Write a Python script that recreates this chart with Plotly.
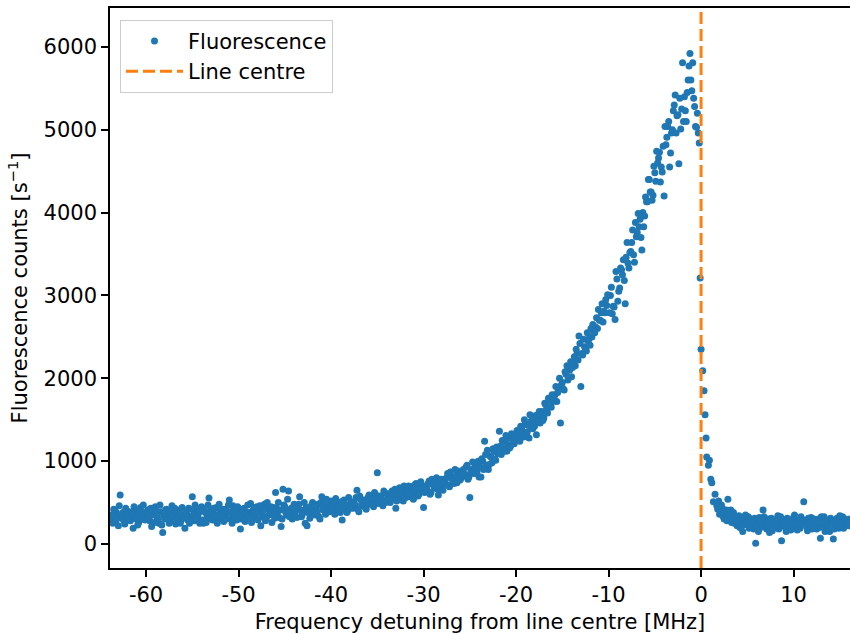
import plotly.graph_objects as go

# ---- data ----
# main sweep samples
freq_a = [
    -63.8, -63.6, -63.4, -63.2, -63.0, -62.8, -62.6, -62.4, -62.2, -62.0,
    -61.8, -61.6, -61.4, -61.2, -61.0, -60.8, -60.6, -60.4, -60.2, -60.0,
    -59.8, -59.6, -59.4, -59.2, -59.0, -58.8, -58.6, -58.4, -58.2, -58.0,
    -57.8, -57.6, -57.4, -57.2, -57.0, -56.8, -56.6, -56.4, -56.2, -56.0,
    -55.8, -55.6, -55.4, -55.2, -55.0, -54.8, -54.6, -54.4, -54.2, -54.0,
    -53.8, -53.6, -53.4, -53.2, -53.0, -52.8, -52.6, -52.4, -52.2, -52.0,
    -51.8, -51.6, -51.4, -51.2, -51.0, -50.8, -50.6, -50.4, -50.2, -50.0,
    -49.8, -49.6, -49.4, -49.2, -49.0, -48.8, -48.6, -48.4, -48.2, -48.0,
    -47.8, -47.6, -47.4, -47.2, -47.0, -46.8, -46.6, -46.4, -46.2, -46.0,
    -45.8, -45.6, -45.4, -45.2, -45.0, -44.8, -44.6, -44.4, -44.2, -44.0,
    -43.8, -43.6, -43.4, -43.2, -43.0, -42.8, -42.6, -42.4, -42.2, -42.0,
    -41.8, -41.6, -41.4, -41.2, -41.0, -40.8, -40.6, -40.4, -40.2, -40.0,
    -39.8, -39.6, -39.4, -39.2, -39.0, -38.8, -38.6, -38.4, -38.2, -38.0,
    -37.8, -37.6, -37.4, -37.2, -37.0, -36.8, -36.6, -36.4, -36.2, -36.0,
    -35.8, -35.6, -35.4, -35.2, -35.0, -34.8, -34.6, -34.4, -34.2, -34.0,
    -33.8, -33.6, -33.4, -33.2, -33.0, -32.8, -32.6, -32.4, -32.2, -32.0,
    -31.8, -31.6, -31.4, -31.2, -31.0, -30.8, -30.6, -30.4, -30.2, -30.0,
    -29.8, -29.6, -29.4, -29.2, -29.0, -28.8, -28.6, -28.4, -28.2, -28.0,
    -27.8, -27.6, -27.4, -27.2, -27.0, -26.8, -26.6, -26.4, -26.2, -26.0,
    -25.8, -25.6, -25.4, -25.2, -25.0, -24.8, -24.6, -24.4, -24.2, -24.0,
    -23.8, -23.6, -23.4, -23.2, -23.0, -22.8, -22.6, -22.4, -22.2, -22.0,
    -21.8, -21.6, -21.4, -21.2, -21.0, -20.8, -20.6, -20.4, -20.2, -20.0,
    -19.8, -19.6, -19.4, -19.2, -19.0, -18.8, -18.6, -18.4, -18.2, -18.0,
    -17.8, -17.6, -17.4, -17.2, -17.0, -16.8, -16.6, -16.4, -16.2, -16.0,
    -15.8, -15.6, -15.4, -15.2, -15.0, -14.8, -14.6, -14.4, -14.2, -14.0,
    -13.8, -13.6, -13.4, -13.2, -13.0, -12.8, -12.6, -12.4, -12.2, -12.0,
    -11.8, -11.6, -11.4, -11.2, -11.0, -10.8, -10.6, -10.4, -10.2, -10.0,
    -9.8, -9.6, -9.4, -9.2, -9.0, -8.8, -8.6, -8.4, -8.2, -8.0,
    -7.8, -7.6, -7.4, -7.2, -7.0, -6.8, -6.6, -6.4, -6.2, -6.0,
    -5.8, -5.6, -5.4, -5.2, -5.0, -4.8, -4.6, -4.4, -4.2, -4.0,
    -3.8, -3.6, -3.4, -3.2, -3.0, -2.8, -2.6, -2.4, -2.2, -2.0,
    -1.8, -1.6, -1.4, -1.2, -1.0, -0.8, -0.6, -0.4, -0.2,
    -0.1, 0.0, 0.18, 0.32, 0.43, 0.54, 0.61, 0.79, 0.9, 1.05, 1.16, 1.33, 1.51,
    1.7, 1.9, 2.1, 2.3, 2.5, 2.7, 2.9, 3.1, 3.3, 3.5,
    3.7, 3.9, 4.1, 4.3, 4.5, 4.7, 4.9, 5.1, 5.3, 5.5,
    5.7, 5.9, 6.1, 6.3, 6.5, 6.7, 6.9, 7.1, 7.3, 7.5,
    7.7, 7.9, 8.1, 8.3, 8.5, 8.7, 8.9, 9.1, 9.3, 9.5,
    9.7, 9.9, 10.1, 10.3, 10.5, 10.7, 10.9, 11.1, 11.3, 11.5,
    11.7, 11.9, 12.1, 12.3, 12.5, 12.7, 12.9, 13.1, 13.3, 13.5,
    13.7, 13.9, 14.1, 14.3, 14.5, 14.7, 14.9, 15.1, 15.3, 15.5,
    15.7, 15.9, 16.1,
]

counts_a = [
    300, 250, 410, 380, 220, 590, 340, 280, 430, 360,
    390, 310, 190, 420, 350, 260, 440, 300, 380, 330,
    410, 280, 210, 360, 450, 320, 250, 390, 140, 300,
    420, 350, 270, 460, 330, 240, 380, 410, 290, 350,
    190, 360, 430, 310, 570, 280, 400, 340, 250, 450,
    250, 380, 320, 555, 410, 290, 360, 440, 300, 390,
    340, 270, 420, 380, 530, 310, 460, 350, 290, 400,
    180, 360, 430, 310, 470, 380, 260, 410, 340, 450,
    390, 220, 350, 480, 300, 420, 370, 260, 440, 620,
    380, 320, 210, 660, 450, 350, 640, 410, 300, 480,
    400, 460, 570, 330, 390, 250, 220, 440, 370, 500,
    350, 430, 480, 300, 570, 410, 360, 460, 390, 520,
    420, 360, 500, 440, 380, 290, 530, 450, 400, 480,
    510, 430, 470, 650, 390, 540, 460, 500, 420, 560,
    480, 530, 450, 600, 860, 510, 570, 460, 620, 540,
    590, 500, 640, 550, 430, 610, 680, 560, 520, 650,
    600, 700, 570, 660, 620, 730, 580, 680, 640, 440,
    700, 650, 760, 620, 720, 680, 800, 590, 740, 690,
    780, 720, 850, 690, 810, 760, 900, 740, 830, 780,
    870, 820, 930, 780, 560, 900, 850, 960, 880, 810,
    810, 1000, 1240, 950, 900, 1060, 980, 1120, 1010, 1090,
    1360, 1080, 1150, 1230, 1120, 1280, 1180, 1300, 1210, 1260,
    1320, 1240, 1400, 1290, 1450, 1350, 1280, 1480, 1390, 1420,
    1320, 1540, 1460, 1600, 1520, 1680, 1580, 1740, 1650, 1720,
    1800, 1720, 1880, 1460, 1950, 1860, 2050, 1980, 2100, 2020,
    2200, 2150, 2300, 2510, 1900, 2280, 2380, 2330, 2450, 2400,
    2500, 2560, 2620, 2600, 2700, 2790, 2680, 2790, 2880, 3000,
    3000, 2780, 2860, 3290, 2930, 3090, 3310, 3430, 2900, 3640,
    3330, 3530, 3790, 3400, 3710, 3990, 3920, 3550, 3830, 4190,
    4130, 4400, 4250, 4210, 4480, 4740, 4660, 4370, 4490, 4200,
    4820, 5040, 4550, 4960, 5230, 5420, 5170, 4590, 5010, 5810,
    5400, 5100, 5600, 5920, 5470, 5380, 5040, 5200, 4840,
    3210, 2350, 2090, 1850, 1560, 1280, 1050, 950, 1010, 780, 740, 510, 600,
    460, 520, 380, 430, 300, 410, 540, 330, 260, 380,
    290, 220, 340, 260, 150, 300, 240, 330, 200, 270,
    180, 10, 250, 320, 200, 410, 270, 180, 300, 230,
    160, 290, 220, 340, 250, 40, 280, 200, 310, 240,
    170, 290, 350, 220, 270, 190, 300, 510, 240, 160,
    280, 320, 210, 260, 180, 300, 70, 240, 330, 200,
    270, 150, 290, 60, 230, 310, 190, 260, 330, 210,
    280, 240, 300,
]

# interleaved sweep samples
freq_b = [
    -63.7, -63.5, -63.3, -63.1, -62.9, -62.7, -62.5, -62.3, -62.1, -61.9,
    -61.7, -61.5, -61.3, -61.1, -60.9, -60.7, -60.5, -60.3, -60.1, -59.9,
    -59.7, -59.5, -59.3, -59.1, -58.9, -58.7, -58.5, -58.3, -58.1, -57.9,
    -57.7, -57.5, -57.3, -57.1, -56.9, -56.7, -56.5, -56.3, -56.1, -55.9,
    -55.7, -55.5, -55.3, -55.1, -54.9, -54.7, -54.5, -54.3, -54.1, -53.9,
    -53.7, -53.5, -53.3, -53.1, -52.9, -52.7, -52.5, -52.3, -52.1, -51.9,
    -51.7, -51.5, -51.3, -51.1, -50.9, -50.7, -50.5, -50.3, -50.1, -49.9,
    -49.7, -49.5, -49.3, -49.1, -48.9, -48.7, -48.5, -48.3, -48.1, -47.9,
    -47.7, -47.5, -47.3, -47.1, -46.9, -46.7, -46.5, -46.3, -46.1, -45.9,
    -45.7, -45.5, -45.3, -45.1, -44.9, -44.7, -44.5, -44.3, -44.1, -43.9,
    -43.7, -43.5, -43.3, -43.1, -42.9, -42.7, -42.5, -42.3, -42.1, -41.9,
    -41.7, -41.5, -41.3, -41.1, -40.9, -40.7, -40.5, -40.3, -40.1, -39.9,
    -39.7, -39.5, -39.3, -39.1, -38.9, -38.7, -38.5, -38.3, -38.1, -37.9,
    -37.7, -37.5, -37.3, -37.1, -36.9, -36.7, -36.5, -36.3, -36.1, -35.9,
    -35.7, -35.5, -35.3, -35.1, -34.9, -34.7, -34.5, -34.3, -34.1, -33.9,
    -33.7, -33.5, -33.3, -33.1, -32.9, -32.7, -32.5, -32.3, -32.1, -31.9,
    -31.7, -31.5, -31.3, -31.1, -30.9, -30.7, -30.5, -30.3, -30.1, -29.9,
    -29.7, -29.5, -29.3, -29.1, -28.9, -28.7, -28.5, -28.3, -28.1, -27.9,
    -27.7, -27.5, -27.3, -27.1, -26.9, -26.7, -26.5, -26.3, -26.1, -25.9,
    -25.7, -25.5, -25.3, -25.1, -24.9, -24.7, -24.5, -24.3, -24.1, -23.9,
    -23.7, -23.5, -23.3, -23.1, -22.9, -22.7, -22.5, -22.3, -22.1, -21.9,
    -21.7, -21.5, -21.3, -21.1, -20.9, -20.7, -20.5, -20.3, -20.1, -19.9,
    -19.7, -19.5, -19.3, -19.1, -18.9, -18.7, -18.5, -18.3, -18.1, -17.9,
    -17.7, -17.5, -17.3, -17.1, -16.9, -16.7, -16.5, -16.3, -16.1, -15.9,
    -15.7, -15.5, -15.3, -15.1, -14.9, -14.7, -14.5, -14.3, -14.1, -13.9,
    -13.7, -13.5, -13.3, -13.1, -12.9, -12.7, -12.5, -12.3, -12.1, -11.9,
    -11.7, -11.5, -11.3, -11.1, -10.9, -10.7, -10.5, -10.3, -10.1, -9.9,
    -9.7, -9.5, -9.3, -9.1, -8.9, -8.7, -8.5, -8.3, -8.1, -7.9,
    -7.7, -7.5, -7.3, -7.1, -6.9, -6.7, -6.5, -6.3, -6.1, -5.9,
    -5.7, -5.5, -5.3, -5.1, -4.9, -4.7, -4.5, -4.3, -4.1, -3.9,
    -3.7, -3.5, -3.3, -3.1, -2.9, -2.7, -2.5, -2.3, -2.1, -1.9,
    -1.7, -1.5, -1.3, -1.1, -0.9, -0.7, -0.5, -0.3,
    1.8, 2.0, 2.2, 2.4, 2.6, 2.8, 3.0, 3.2, 3.4, 3.6,
    3.8, 4.0, 4.2, 4.4, 4.6, 4.8, 5.0, 5.2, 5.4, 5.6,
    5.8, 6.0, 6.2, 6.4, 6.6, 6.8, 7.0, 7.2, 7.4, 7.6,
    7.8, 8.0, 8.2, 8.4, 8.6, 8.8, 9.0, 9.2, 9.4, 9.6,
    9.8, 10.0, 10.2, 10.4, 10.6, 10.8, 11.0, 11.2, 11.4, 11.6,
    11.8, 12.0, 12.2, 12.4, 12.6, 12.8, 13.0, 13.2, 13.4, 13.6,
    13.8, 14.0, 14.2, 14.4, 14.6, 14.8, 15.0, 15.2, 15.4, 15.6,
    15.8, 16.0,
]

counts_b = [
    350, 420, 270, 330, 460, 310, 380, 240, 400, 330,
    280, 360, 450, 300, 230, 410, 340, 470, 290, 380,
    320, 430, 350, 260, 400, 310, 470, 230, 360, 410,
    300, 250, 390, 340, 430, 290, 360, 250, 440, 320,
    380, 290, 250, 420, 350, 470, 310, 380, 430, 290,
    410, 260, 470, 360, 300, 430, 340, 250, 480, 330,
    420, 360, 300, 470, 390, 250, 430, 380, 450, 330,
    300, 420, 270, 380, 340, 490, 310, 440, 380, 290,
    460, 330, 410, 280, 500, 350, 450, 380, 310, 430,
    500, 410, 300, 470, 380, 540, 330, 430, 380, 360,
    320, 480, 410, 360, 500, 440, 380, 310, 470, 420,
    460, 380, 330, 500, 420, 470, 540, 390, 450, 410,
    480, 550, 390, 460, 510, 420, 470, 380, 560, 430,
    450, 500, 560, 420, 580, 480, 530, 440, 510, 590,
    560, 470, 620, 530, 490, 580, 520, 640, 500, 600,
    530, 620, 570, 660, 520, 580, 640, 600, 700, 560,
    650, 610, 690, 540, 720, 660, 600, 750, 690, 620,
    680, 730, 600, 780, 700, 760, 660, 720, 780, 650,
    750, 800, 710, 870, 780, 730, 820, 880, 770, 850,
    900, 840, 950, 810, 870, 990, 920, 850, 1000, 930,
    1030, 900, 1080, 1130, 960, 1050, 1150, 1020, 1170, 1100,
    1180, 1250, 1120, 1310, 1200, 1160, 1330, 1250, 1290, 1370,
    1300, 1420, 1360, 1500, 1330, 1430, 1560, 1400, 1490, 1550,
    1470, 1600, 1550, 1490, 1700, 1620, 1760, 1660, 1800, 1750,
    1900, 1830, 2000, 1920, 1870, 2080, 2150, 2010, 2200, 2130,
    2260, 2350, 2220, 2420, 2300, 2470, 2360, 2550, 2480, 2600,
    2650, 2550, 2730, 2830, 2700, 2900, 2810, 2950, 3010, 2790,
    3100, 2870, 2710, 3200, 3050, 3330, 3250, 3180, 3460, 3390,
    3520, 3640, 3490, 3880, 3760, 3830, 3700, 4000, 3960, 4130,
    4400, 4250, 4150, 4560, 4380, 4600, 4730, 4550, 4800, 5040,
    4910, 5100, 4720, 5000, 5300, 4960, 5180, 5380, 5250, 5100,
    5230, 5450, 5770, 5600, 5810, 5280, 5030, 4960,
    420, 360, 470, 330, 390, 280, 350, 410, 300, 250,
    330, 270, 200, 310, 230, 350, 260, 190, 300, 240,
    310, 220, 150, 280, 250, 330, 220, 270, 140, 310,
    250, 200, 290, 180, 330, 230, 260, 150, 300, 270,
    220, 320, 250, 170, 290, 330, 240, 280, 210, 310,
    250, 180, 300, 240, 270, 200, 330, 260, 150, 290,
    230, 310, 250, 180, 280, 220, 340, 260, 190, 300,
    250, 220,
]

LINE_CENTRE = 0.0

x_tick_values = [-60, -50, -40, -30, -20, -10, 0, 10]
x_tick_labels = ["-60", "-50", "-40", "-30", "-20", "-10", "0", "10"]
y_tick_values = [0, 1000, 2000, 3000, 4000, 5000, 6000]
y_tick_labels = ["0", "1000", "2000", "3000", "4000", "5000", "6000"]

FONT = "DejaVu Sans"
FS = 21

fig = go.Figure()
fig.add_trace(go.Scatter(
    x=freq_a + freq_b, y=counts_a + counts_b, mode="markers", name="Fluorescence",
    marker=dict(color="#1f77b4", size=7, line=dict(width=0)),
))
fig.add_shape(
    type="line", x0=LINE_CENTRE, x1=LINE_CENTRE, xref="x", yref="paper", y0=0, y1=1,
    line=dict(color="#ff7f0e", width=3, dash="12px,5px"),
    showlegend=True, name="Line centre", layer="above",
)

axis_common = dict(
    showline=True, mirror=True, linecolor="black", linewidth=1.5,
    ticks="outside", ticklen=7, tickwidth=1.5, tickcolor="black",
    showgrid=False, zeroline=False, automargin=False,
    tickfont=dict(family=FONT, size=FS, color="black"),
)

fig.update_layout(
    width=850, height=634,
    margin=dict(l=110, r=0, t=8, b=66),
    paper_bgcolor="white", plot_bgcolor="white",
    font=dict(family=FONT, size=FS, color="black"),
    xaxis=dict(
        range=[-63.9, 16.1], tickvals=x_tick_values, ticktext=x_tick_labels,
        title=dict(text="Frequency detuning from line centre [MHz]",
                   font=dict(family=FONT, size=FS, color="black"), standoff=8),
        **axis_common,
    ),
    yaxis=dict(
        range=[-290, 6470], tickvals=y_tick_values, ticktext=y_tick_labels,
        title=dict(text="Fluorescence counts [s<sup>−1</sup>]",
                   font=dict(family=FONT, size=FS, color="black"), standoff=10),
        **axis_common,
    ),
    legend=dict(
        x=0.0135, y=0.979, xanchor="left", yanchor="top",
        bgcolor="rgba(255,255,255,0.8)", bordercolor="#cccccc", borderwidth=1,
        font=dict(family=FONT, size=FS, color="black"),
        itemwidth=57,
    ),
    showlegend=True,
)

fig.write_html(
    "out.html",
    config={"displayModeBar": False},
    post_script="document.body.style.margin='0';document.body.style.padding='0';",
)
